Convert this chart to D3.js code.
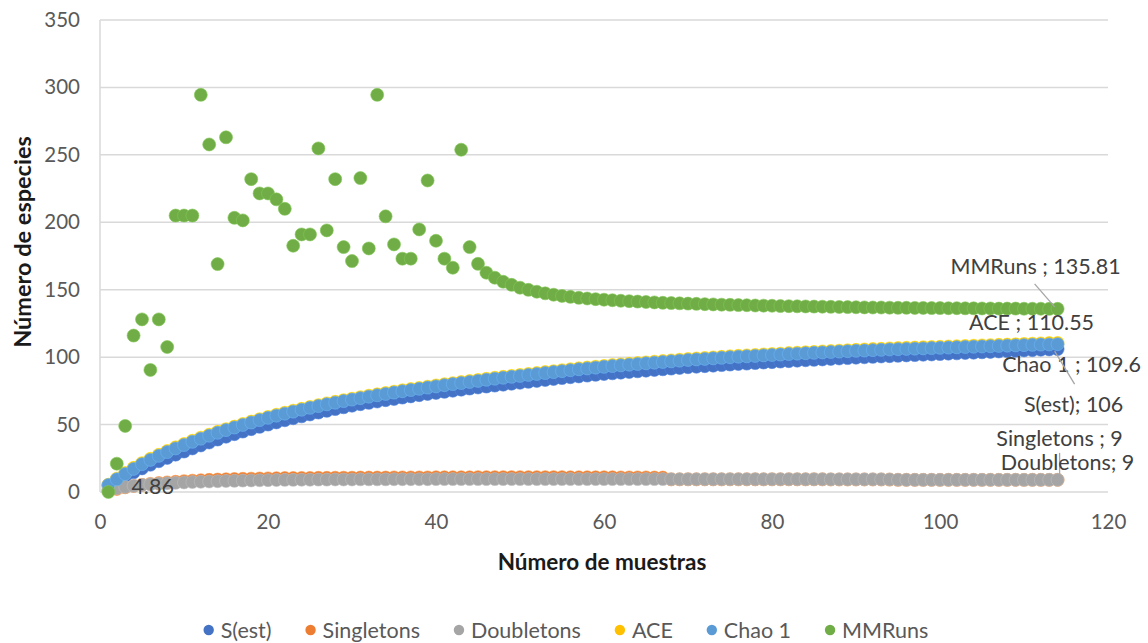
<!DOCTYPE html>
<html>
<head>
<meta charset="utf-8">
<script src="https://cdn.jsdelivr.net/npm/d3@7"></script>
<style>
  html, body { margin: 0; padding: 0; background: #fff; }
  svg { display: block; }
  text { font-family: Lato, "Liberation Sans", sans-serif; }
</style>
</head>
<body>
<svg id="chart" width="1148" height="643"></svg>
<script>
// Número de muestras (1..114)
const muestras = d3.range(1, 115);

const seriesNames = ["S(est)", "Singletons", "Doubletons", "ACE", "Chao 1", "MMRuns"];
const seriesColors = ["#4472C4", "#ED7D31", "#A5A5A5", "#FFC000", "#5B9BD5", "#70AD47"];

const xTicks = [0, 20, 40, 60, 80, 100, 120];
const yTicks = [0, 50, 100, 150, 200, 250, 300, 350];

const sEst = [
  4.86, 8.4, 11.5, 14.6, 17.5, 20.2, 22.8, 25.3, 27.7, 30.0,
  32.3, 34.5, 36.7, 38.9, 41.0, 42.9, 44.8, 46.6, 48.3, 50.0,
  51.6, 53.2, 54.7, 56.1, 57.5, 58.9, 60.2, 61.5, 62.8, 64.0,
  65.1, 66.1, 67.1, 68.1, 69.0, 70.0, 70.9, 71.8, 72.7, 73.5,
  74.3, 75.1, 75.9, 76.7, 77.5, 78.2, 78.9, 79.6, 80.3, 81.0,
  81.7, 82.4, 83.1, 83.8, 84.5, 85.1, 85.7, 86.3, 86.9, 87.5,
  88.0, 88.5, 89.0, 89.5, 90.0, 90.5, 91.0, 91.5, 92.0, 92.5,
  92.9, 93.3, 93.7, 94.1, 94.5, 94.9, 95.2, 95.6, 96.0, 96.3,
  96.7, 97.0, 97.4, 97.7, 98.0, 98.3, 98.7, 99.0, 99.3, 99.6,
  99.9, 100.2, 100.5, 100.7, 101.0, 101.3, 101.5, 101.8, 102.0, 102.3,
  102.6, 102.8, 103.1, 103.3, 103.6, 103.9, 104.2, 104.5, 104.7, 105.0,
  105.2, 105.5, 105.7, 106.0
];

const singletons = [
  1.0, 2.3, 3.5, 4.5, 5.3, 6.0, 6.6, 7.1, 7.6, 8.0,
  8.4, 8.7, 9.0, 9.2, 9.4, 9.6, 9.8, 9.9, 10.0, 10.1,
  10.2, 10.3, 10.3, 10.4, 10.4, 10.5, 10.5, 10.6, 10.6, 10.6,
  10.7, 10.7, 10.7, 10.7, 10.8, 10.8, 10.8, 10.8, 10.8, 10.9,
  10.9, 10.9, 10.9, 10.9, 11.0, 11.0, 11.0, 11.0, 11.0, 11.0,
  11.0, 11.0, 11.0, 11.0, 11.0, 10.9, 10.9, 10.9, 10.9, 10.9,
  10.9, 10.8, 10.8, 10.8, 10.8, 10.7, 10.7, 9.4, 9.4, 9.4,
  9.4, 9.4, 9.4, 9.4, 9.4, 9.4, 9.4, 9.4, 9.4, 9.4,
  9.4, 9.4, 9.4, 9.4, 9.4, 9.4, 9.3, 9.3, 9.3, 9.3,
  9.3, 9.3, 9.3, 9.2, 9.0, 9.0, 9.0, 9.0, 9.0, 9.0,
  9.0, 9.0, 9.0, 9.0, 9.0, 9.0, 9.0, 9.0, 9.0, 9.0,
  9.0, 9.0, 9.0, 9.0
];

const doubletons = [
  1.5, 2.8, 3.8, 4.6, 5.2, 5.7, 6.1, 6.5, 6.8, 7.1,
  7.4, 7.6, 7.8, 8.0, 8.2, 8.3, 8.5, 8.6, 8.7, 8.8,
  8.9, 9.0, 9.0, 9.1, 9.1, 9.2, 9.2, 9.3, 9.3, 9.3,
  9.4, 9.4, 9.4, 9.4, 9.5, 9.5, 9.5, 9.5, 9.5, 9.6,
  9.6, 9.6, 9.6, 9.6, 9.6, 9.6, 9.6, 9.6, 9.6, 9.6,
  9.6, 9.6, 9.6, 9.6, 9.6, 9.6, 9.6, 9.6, 9.6, 9.6,
  9.6, 9.6, 9.6, 9.6, 9.6, 9.6, 9.6, 9.5, 9.5, 9.5,
  9.5, 9.5, 9.5, 9.5, 9.5, 9.5, 9.5, 9.5, 9.5, 9.5,
  9.5, 9.5, 9.5, 9.5, 9.5, 9.5, 9.4, 9.4, 9.4, 9.4,
  9.4, 9.4, 9.4, 9.3, 9.1, 9.0, 9.0, 9.0, 9.0, 9.0,
  9.0, 9.0, 9.0, 9.0, 9.0, 9.0, 9.0, 9.0, 9.0, 9.0,
  9.0, 9.0, 9.0, 9.0
];

const ace = [
  5.4, 9.9, 14.0, 17.9, 21.4, 24.6, 27.6, 30.4, 33.1, 35.6,
  38.0, 40.3, 42.5, 44.6, 46.6, 48.5, 50.4, 52.2, 54.0, 55.7,
  57.3, 58.8, 60.3, 61.7, 63.1, 64.4, 65.7, 66.9, 68.1, 69.2,
  70.3, 71.4, 72.4, 73.4, 74.4, 75.4, 76.3, 77.2, 78.1, 79.0,
  79.9, 80.7, 81.5, 82.3, 83.1, 83.9, 84.7, 85.4, 86.1, 86.8,
  87.5, 88.2, 88.9, 89.6, 90.3, 91.0, 91.7, 92.3, 92.9, 93.5,
  94.1, 94.6, 95.1, 95.6, 96.1, 96.6, 97.1, 97.6, 98.1, 98.6,
  99.0, 99.4, 99.8, 100.2, 100.6, 101.0, 101.3, 101.6, 102.0, 102.3,
  102.6, 103.0, 103.3, 103.6, 103.9, 104.2, 104.5, 104.8, 105.1, 105.4,
  105.7, 106.0, 106.2, 106.5, 106.7, 106.9, 107.1, 107.3, 107.5, 107.7,
  107.9, 108.1, 108.3, 108.5, 108.7, 108.9, 109.1, 109.3, 109.5, 109.8,
  110.0, 110.2, 110.4, 110.55
];

const chao1 = [
  5.2, 9.4, 13.3, 17.1, 20.6, 23.8, 26.8, 29.6, 32.3, 34.8,
  37.2, 39.5, 41.7, 43.9, 45.9, 47.8, 49.7, 51.5, 53.3, 55.0,
  56.6, 58.1, 59.6, 61.0, 62.4, 63.7, 65.0, 66.2, 67.4, 68.5,
  69.6, 70.7, 71.7, 72.7, 73.7, 74.7, 75.6, 76.5, 77.4, 78.3,
  79.2, 80.0, 80.8, 81.6, 82.4, 83.2, 84.0, 84.7, 85.4, 86.1,
  86.8, 87.5, 88.2, 88.9, 89.6, 90.3, 91.0, 91.6, 92.2, 92.8,
  93.4, 93.9, 94.4, 94.9, 95.4, 95.9, 96.4, 96.9, 97.4, 97.9,
  98.3, 98.7, 99.1, 99.5, 99.9, 100.3, 100.6, 100.9, 101.3, 101.6,
  101.9, 102.3, 102.6, 102.9, 103.2, 103.5, 103.8, 104.1, 104.4, 104.7,
  104.9, 105.2, 105.4, 105.7, 105.9, 106.1, 106.3, 106.5, 106.7, 106.9,
  107.1, 107.3, 107.5, 107.7, 107.9, 108.1, 108.3, 108.5, 108.7, 108.9,
  109.1, 109.3, 109.4, 109.6
];

const mmRuns = [
  0, 21, 49, 116, 128, 90.5, 128, 107.5, 205, 205,
  205, 294.5, 257.7, 169, 263, 203.3, 201.4, 232, 221.4, 221.4,
  217, 210, 182.6, 191, 191, 254.8, 194, 232, 181.6, 171.2,
  232.8, 180.6, 294.5, 204.4, 183.6, 173, 173, 194.7, 231, 186.3,
  173, 166.3, 253.8, 181.6, 169.2, 162.6, 158.9, 155.9, 153.6, 151.5,
  149.9, 148.5, 147.3, 146.3, 145.4, 144.7, 144.0, 143.5, 143.0, 142.6,
  142.2, 141.8, 141.5, 141.2, 140.9, 140.6, 140.3, 140.1, 139.9, 139.7,
  139.5, 139.3, 139.1, 138.9, 138.8, 138.6, 138.5, 138.3, 138.2, 138.1,
  137.9, 137.8, 137.7, 137.6, 137.5, 137.4, 137.3, 137.2, 137.1, 137.0,
  136.9, 136.8, 136.8, 136.7, 136.6, 136.6, 136.5, 136.5, 136.4, 136.4,
  136.3, 136.3, 136.2, 136.2, 136.1, 136.1, 136.0, 136.0, 136.0, 135.9,
  135.9, 135.9, 135.8, 135.81
];

const seriesValues = [sEst, singletons, doubletons, ace, chao1, mmRuns];

// End-of-series labels as written on the chart
const endLabels = [
  { text: "MMRuns ; 135.81", series: 5 },
  { text: "ACE ; 110.55", series: 3 },
  { text: "Chao 1 ; 109.6", series: 4 },
  { text: "S(est); 106", series: 0 },
  { text: "Singletons ; 9", series: 1 },
  { text: "Doubletons; 9", series: 2 }
];
const firstLabel = { text: "4.86", series: 0 };

const svg = d3.select("#chart");
const margin = { left: 100, right: 40, top: 20, bottom: 151 };
const W = 1148, H = 643;

const x = d3.scaleLinear().domain([0, 120]).range([margin.left, W - margin.right]);
const y = d3.scaleLinear().domain([0, 350]).range([H - margin.bottom, margin.top]);

const gridColor = "#d9d9d9";
const tickColor = "#595959";
const FONT = "Lato, 'Liberation Sans', sans-serif";

// horizontal gridlines
svg.append("g")
  .selectAll("line")
  .data(yTicks)
  .join("line")
  .attr("x1", x(0)).attr("x2", x(120))
  .attr("y1", d => y(d)).attr("y2", d => y(d))
  .attr("stroke", gridColor).attr("stroke-width", 1.5);

// vertical axis line
svg.append("line")
  .attr("x1", x(0)).attr("x2", x(0))
  .attr("y1", y(0)).attr("y2", y(350))
  .attr("stroke", gridColor).attr("stroke-width", 1.5);

// y axis labels
const yAxis = d3.axisLeft(y).tickValues(yTicks).tickSize(0).tickPadding(20);
const gy = svg.append("g").attr("transform", `translate(${x(0)},0)`).call(yAxis);
gy.select(".domain").remove();
gy.selectAll("text")
  .attr("font-size", 20.5).attr("fill", tickColor)
  .style("font-family", FONT);

// x axis labels
const xAxis = d3.axisBottom(x).tickValues(xTicks).tickSize(0).tickPadding(22);
const gx = svg.append("g").attr("transform", `translate(0,${y(0)})`).call(xAxis);
gx.select(".domain").remove();
gx.selectAll("text")
  .attr("font-size", 20.5).attr("fill", tickColor)
  .style("font-family", FONT);

// axis titles
svg.append("text")
  .attr("x", 602).attr("y", 570)
  .attr("text-anchor", "middle")
  .attr("font-size", 22.5).attr("font-weight", "bold").attr("fill", "#1a1a1a")
  .text("Número de muestras");

svg.append("text")
  .attr("transform", `translate(31,242) rotate(-90)`)
  .attr("text-anchor", "middle")
  .attr("font-size", 23.5).attr("font-weight", "bold").attr("fill", "#1a1a1a")
  .text("Número de especies");

// markers, one layer per series
const r = 6.5;
seriesValues.forEach((vals, si) => {
  svg.append("g")
    .selectAll("circle")
    .data(vals)
    .join("circle")
    .attr("cx", (d, i) => x(muestras[i]))
    .attr("cy", d => y(d))
    .attr("r", r)
    .attr("fill", seriesColors[si])
    .attr("stroke", d3.color(seriesColors[si]).brighter(0.4))
    .attr("stroke-width", 0.6);
});

// data labels with leader lines (offsets from the labelled point)
const lastIdx = muestras.length - 1;
const labelText = "#404040";
const labelPos = {
  5: { dx: -22, dy: -43 },
  3: { dx: -26, dy: -21 },
  4: { dx: 14, dy: 20 },
  0: { dx: 16, dy: 55 },
  1: { dx: 2, dy: -42 },
  2: { dx: 10, dy: -18 }
};
const leaders = {
  5: { x1: -23, y1: -25, x2: -3, y2: -2 },
  0: { x1: -3, y1: 2, x2: 17, y2: 35 },
  2: { x1: 2, y1: -27, x2: 2, y2: -6 }
};

endLabels.forEach(l => {
  const vx = x(muestras[lastIdx]);
  const vy = y(seriesValues[l.series][lastIdx]);
  const ld = leaders[l.series];
  if (ld) {
    svg.append("line")
      .attr("x1", vx + ld.x1).attr("y1", vy + ld.y1)
      .attr("x2", vx + ld.x2).attr("y2", vy + ld.y2)
      .attr("stroke", "#a6a6a6").attr("stroke-width", 1.3);
  }
  const p = labelPos[l.series];
  svg.append("text")
    .attr("x", vx + p.dx).attr("y", vy + p.dy)
    .attr("text-anchor", "middle")
    .attr("dominant-baseline", "central")
    .attr("font-size", 21.5).attr("fill", labelText)
    .text(l.text);
});

svg.append("text")
  .attr("x", x(muestras[0]) + 23).attr("y", y(seriesValues[firstLabel.series][0]) + 1)
  .attr("dominant-baseline", "central")
  .attr("font-size", 21.5).attr("fill", labelText)
  .text(firstLabel.text);

// legend
const legend = svg.append("g").attr("transform", "translate(0,630)");
const gap = 39;
let cursor = 0;
const items = [];
seriesNames.forEach((name, i) => {
  const g = legend.append("g");
  g.append("circle").attr("r", 5.2).attr("fill", seriesColors[i]);
  const t = g.append("text")
    .attr("x", 12).attr("dominant-baseline", "central")
    .attr("font-size", 21.5).attr("fill", tickColor)
    .text(name);
  const w = t.node().getComputedTextLength();
  items.push({ g, offset: cursor });
  cursor += 12 + w + gap;
});
const totalW = cursor - gap + 5;
const startX = 566 - totalW / 2 + 5;
items.forEach(it => it.g.attr("transform", `translate(${startX + it.offset},0)`));
</script>
</body>
</html>
